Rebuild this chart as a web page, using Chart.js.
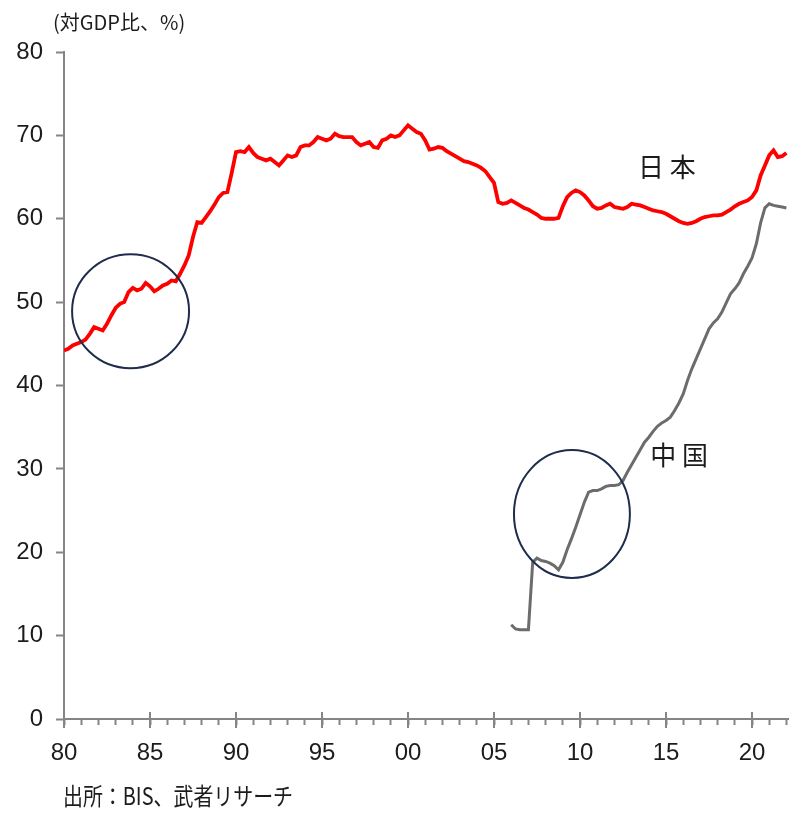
<!DOCTYPE html>
<html>
<head>
<meta charset="utf-8">
<script src="https://cdn.jsdelivr.net/npm/chart.js@4.4.1/dist/chart.umd.min.js"></script>
<style>
  html, body { margin: 0; padding: 0; background: #ffffff; }
  canvas { display: block; }
</style>
</head>
<body>
<canvas id="chart" width="789" height="813"></canvas>
<script>
// Private-sector (household) debt, % of GDP, quarterly
const jpStartYear = 1980;           // first quarter of the Japan series
const jpValues = [
  44.2, 44.4, 44.8, 45.0,   // 1980
  45.2, 45.5, 46.2, 47.0,   // 1981
  46.8, 46.6, 47.4, 48.4,   // 1982
  49.3, 49.8, 50.0, 51.2,   // 1983
  51.7, 51.4, 51.6, 52.3,   // 1984
  51.9, 51.3, 51.6, 52.0,   // 1985
  52.2, 52.6, 52.5, 53.4,   // 1986
  54.4, 55.6, 57.8, 59.6,   // 1987
  59.5, 60.2, 60.9, 61.7,   // 1988
  62.6, 63.1, 63.2, 65.5,   // 1989
  68.0, 68.1, 68.0, 68.6,   // 1990
  67.9, 67.4, 67.2, 67.0,   // 1991
  67.2, 66.8, 66.4, 67.0,   // 1992
  67.6, 67.4, 67.6, 68.6,   // 1993
  68.8, 68.8, 69.2, 69.8,   // 1994
  69.6, 69.4, 69.6, 70.2,   // 1995
  69.9, 69.8, 69.8, 69.8,   // 1996
  69.2, 68.8, 69.0, 69.2,   // 1997
  68.6, 68.5, 69.4, 69.6,   // 1998
  70.0, 69.8, 70.0, 70.6,   // 1999
  71.2, 70.8, 70.4, 70.2,   // 2000
  69.4, 68.3, 68.4, 68.6,   // 2001
  68.5, 68.1, 67.8, 67.5,   // 2002
  67.2, 66.9, 66.8, 66.6,   // 2003
  66.4, 66.1, 65.7, 65.0,   // 2004
  64.3, 62.0, 61.8, 61.9,   // 2005
  62.2, 61.9, 61.6, 61.3,   // 2006
  61.1, 60.8, 60.5, 60.1,   // 2007
  60.0, 60.0, 60.0, 60.1,   // 2008
  61.5, 62.6, 63.1, 63.4,   // 2009
  63.2, 62.8, 62.2, 61.5,   // 2010
  61.2, 61.3, 61.6, 61.8,   // 2011
  61.4, 61.3, 61.2, 61.4,   // 2012
  61.8, 61.7, 61.6, 61.4,   // 2013
  61.2, 61.0, 60.9, 60.8,   // 2014
  60.6, 60.3, 60.0, 59.7,   // 2015
  59.5, 59.4, 59.5, 59.7,   // 2016
  60.0, 60.2, 60.3, 60.4,   // 2017
  60.4, 60.5, 60.8, 61.1,   // 2018
  61.5, 61.8, 62.0, 62.2,   // 2019
  62.6, 63.4, 65.2, 66.4,   // 2020
  67.6, 68.2, 67.4, 67.5,   // 2021
  67.9                      // 2022
];

const cnStartYear = 2006;           // first quarter of the China series
const cnValues = [
  11.3, 10.8, 10.7, 10.7,   // 2006
  10.7, 18.8, 19.3, 19.0,   // 2007
  18.9, 18.7, 18.4, 17.9,   // 2008
  18.8, 20.3, 21.6, 23.0,   // 2009
  24.5, 26.0, 27.2, 27.4,   // 2010
  27.4, 27.6, 27.9, 28.0,   // 2011
  28.0, 28.1, 28.6, 29.6,   // 2012
  30.5, 31.4, 32.3, 33.2,   // 2013
  33.8, 34.5, 35.1, 35.5,   // 2014
  35.8, 36.2, 37.0, 37.9,   // 2015
  39.0, 40.6, 42.0, 43.2,   // 2016
  44.4, 45.6, 46.8, 47.5,   // 2017
  48.0, 48.8, 49.9, 51.0,   // 2018
  51.6, 52.3, 53.4, 54.3,   // 2019
  55.3, 57.0, 59.5, 61.3,   // 2020
  61.8, 61.6, 61.5, 61.4,   // 2021
  61.3                      // 2022
];

const seriesNames = ['日 本', '中 国'];
const yTickValues = [0, 10, 20, 30, 40, 50, 60, 70, 80];
const xMajorYears = [1980, 1985, 1990, 1995, 2000, 2005, 2010, 2015, 2020];
const xTickLabels = ['80', '85', '90', '95', '00', '05', '10', '15', '20'];
const unitText = '(対GDP比、%)';
const sourceText = '出所：BIS、武者リサーチ';

// Highlighted periods (ellipses in data units: centre year/value, radius in years/value)
const ringYears   = [1983.87, 2009.53];
const ringValues  = [48.9, 24.58];
const ringRadiusY = [3.40, 3.37];
const ringRadiusV = [6.83, 7.67];

// Name labels placed beside each line (data units)
const nameYears  = [2015.05, 2015.76];
const nameValues = [66.2, 31.6];

const toPoints = (start, vals) => vals.map((v, i) => ({ x: start + i / 4, y: v }));

const AXIS_GREY = '#858585';
const TEXT = '#1c1c1c';
const TICK_FONT = { family: "'Liberation Sans Narrow', 'Liberation Sans', Arial, sans-serif", size: 24 };
const CJK = "'Noto Sans CJK JP', 'Noto Sans', sans-serif";

const decorations = {
  id: 'decorations',
  afterDatasetsDraw(chart) {
    const { ctx, scales: { x, y } } = chart;
    ctx.save();
    // highlight ellipses
    ctx.strokeStyle = '#1f2c4c';
    ctx.lineWidth = 2;
    ringYears.forEach((yr, i) => {
      const cx = x.getPixelForValue(yr);
      const cy = y.getPixelForValue(ringValues[i]);
      const rx = Math.abs(x.getPixelForValue(yr + ringRadiusY[i]) - cx);
      const ry = Math.abs(y.getPixelForValue(ringValues[i] + ringRadiusV[i]) - cy);
      ctx.beginPath();
      ctx.ellipse(cx, cy, rx, ry, 0, 0, Math.PI * 2);
      ctx.stroke();
    });
    // series names
    ctx.fillStyle = TEXT;
    ctx.font = `26px ${CJK}`;
    ctx.textAlign = 'center';
    ctx.textBaseline = 'middle';
    seriesNames.forEach((name, i) => {
      ctx.fillText(name, x.getPixelForValue(nameYears[i]), y.getPixelForValue(nameValues[i]));
    });
    ctx.restore();
  },
  afterDraw(chart) {
    const { ctx, scales: { x } } = chart;
    ctx.save();
    // major x ticks cross the axis line
    ctx.strokeStyle = AXIS_GREY;
    ctx.lineWidth = 2;
    const base = chart.chartArea.bottom;
    xMajorYears.forEach(yr => {
      const px = Math.round(x.getPixelForValue(yr));
      ctx.beginPath();
      ctx.moveTo(px, base - 7);
      ctx.lineTo(px, base + 9);
      ctx.stroke();
    });
    // unit caption and source note
    ctx.fillStyle = TEXT;
    ctx.textAlign = 'left';
    ctx.textBaseline = 'middle';
    ctx.font = `20px ${CJK}`;
    ctx.fillText(unitText, 53, 22);
    ctx.translate(63, 796);
    ctx.scale(0.83, 1);
    ctx.font = `24px ${CJK}`;
    ctx.fillText(sourceText, 0, 0);
    ctx.restore();
  }
};

new Chart(document.getElementById('chart'), {
  type: 'line',
  data: {
    datasets: [
      {
        label: seriesNames[0],
        data: toPoints(jpStartYear, jpValues),
        borderColor: '#ff0000',
        borderWidth: 3.8,
        pointRadius: 0,
        tension: 0
      },
      {
        label: seriesNames[1],
        data: toPoints(cnStartYear, cnValues),
        borderColor: '#6c6c6c',
        borderWidth: 3,
        pointRadius: 0,
        tension: 0
      }
    ]
  },
  options: {
    responsive: false,
    animation: false,
    devicePixelRatio: 1,
    layout: { padding: { top: 52, right: 0, bottom: 34, left: 0 } },
    plugins: { legend: { display: false }, tooltip: { enabled: false } },
    scales: {
      x: {
        type: 'linear',
        min: 1980,
        max: 2022.15,
        afterFit: s => { s.height = 60; s.paddingRight = 0; s.paddingLeft = 0; },
        border: { color: AXIS_GREY, width: 2 },
        grid: { drawOnChartArea: false, drawTicks: true, tickLength: 6, tickColor: AXIS_GREY, tickWidth: 2 },
        ticks: {
          stepSize: 1,
          includeBounds: false,
          autoSkip: false,
          maxRotation: 0,
          padding: 14,
          color: TEXT,
          font: TICK_FONT,
          callback: v => {
            const k = xMajorYears.indexOf(Math.round(v));
            return k >= 0 ? xTickLabels[k] : '';
          }
        }
      },
      y: {
        min: 0,
        max: 80,
        afterFit: s => { s.width = 64; s.paddingTop = 0; s.paddingBottom = 0; },
        afterBuildTicks: s => { s.ticks = yTickValues.map(v => ({ value: v })); },
        border: { color: AXIS_GREY, width: 2 },
        grid: { drawOnChartArea: false, drawTicks: true, tickLength: 8, tickColor: AXIS_GREY, tickWidth: 2 },
        ticks: { padding: 13, color: TEXT, font: TICK_FONT }
      }
    }
  },
  plugins: [decorations]
});
</script>
</body>
</html>
